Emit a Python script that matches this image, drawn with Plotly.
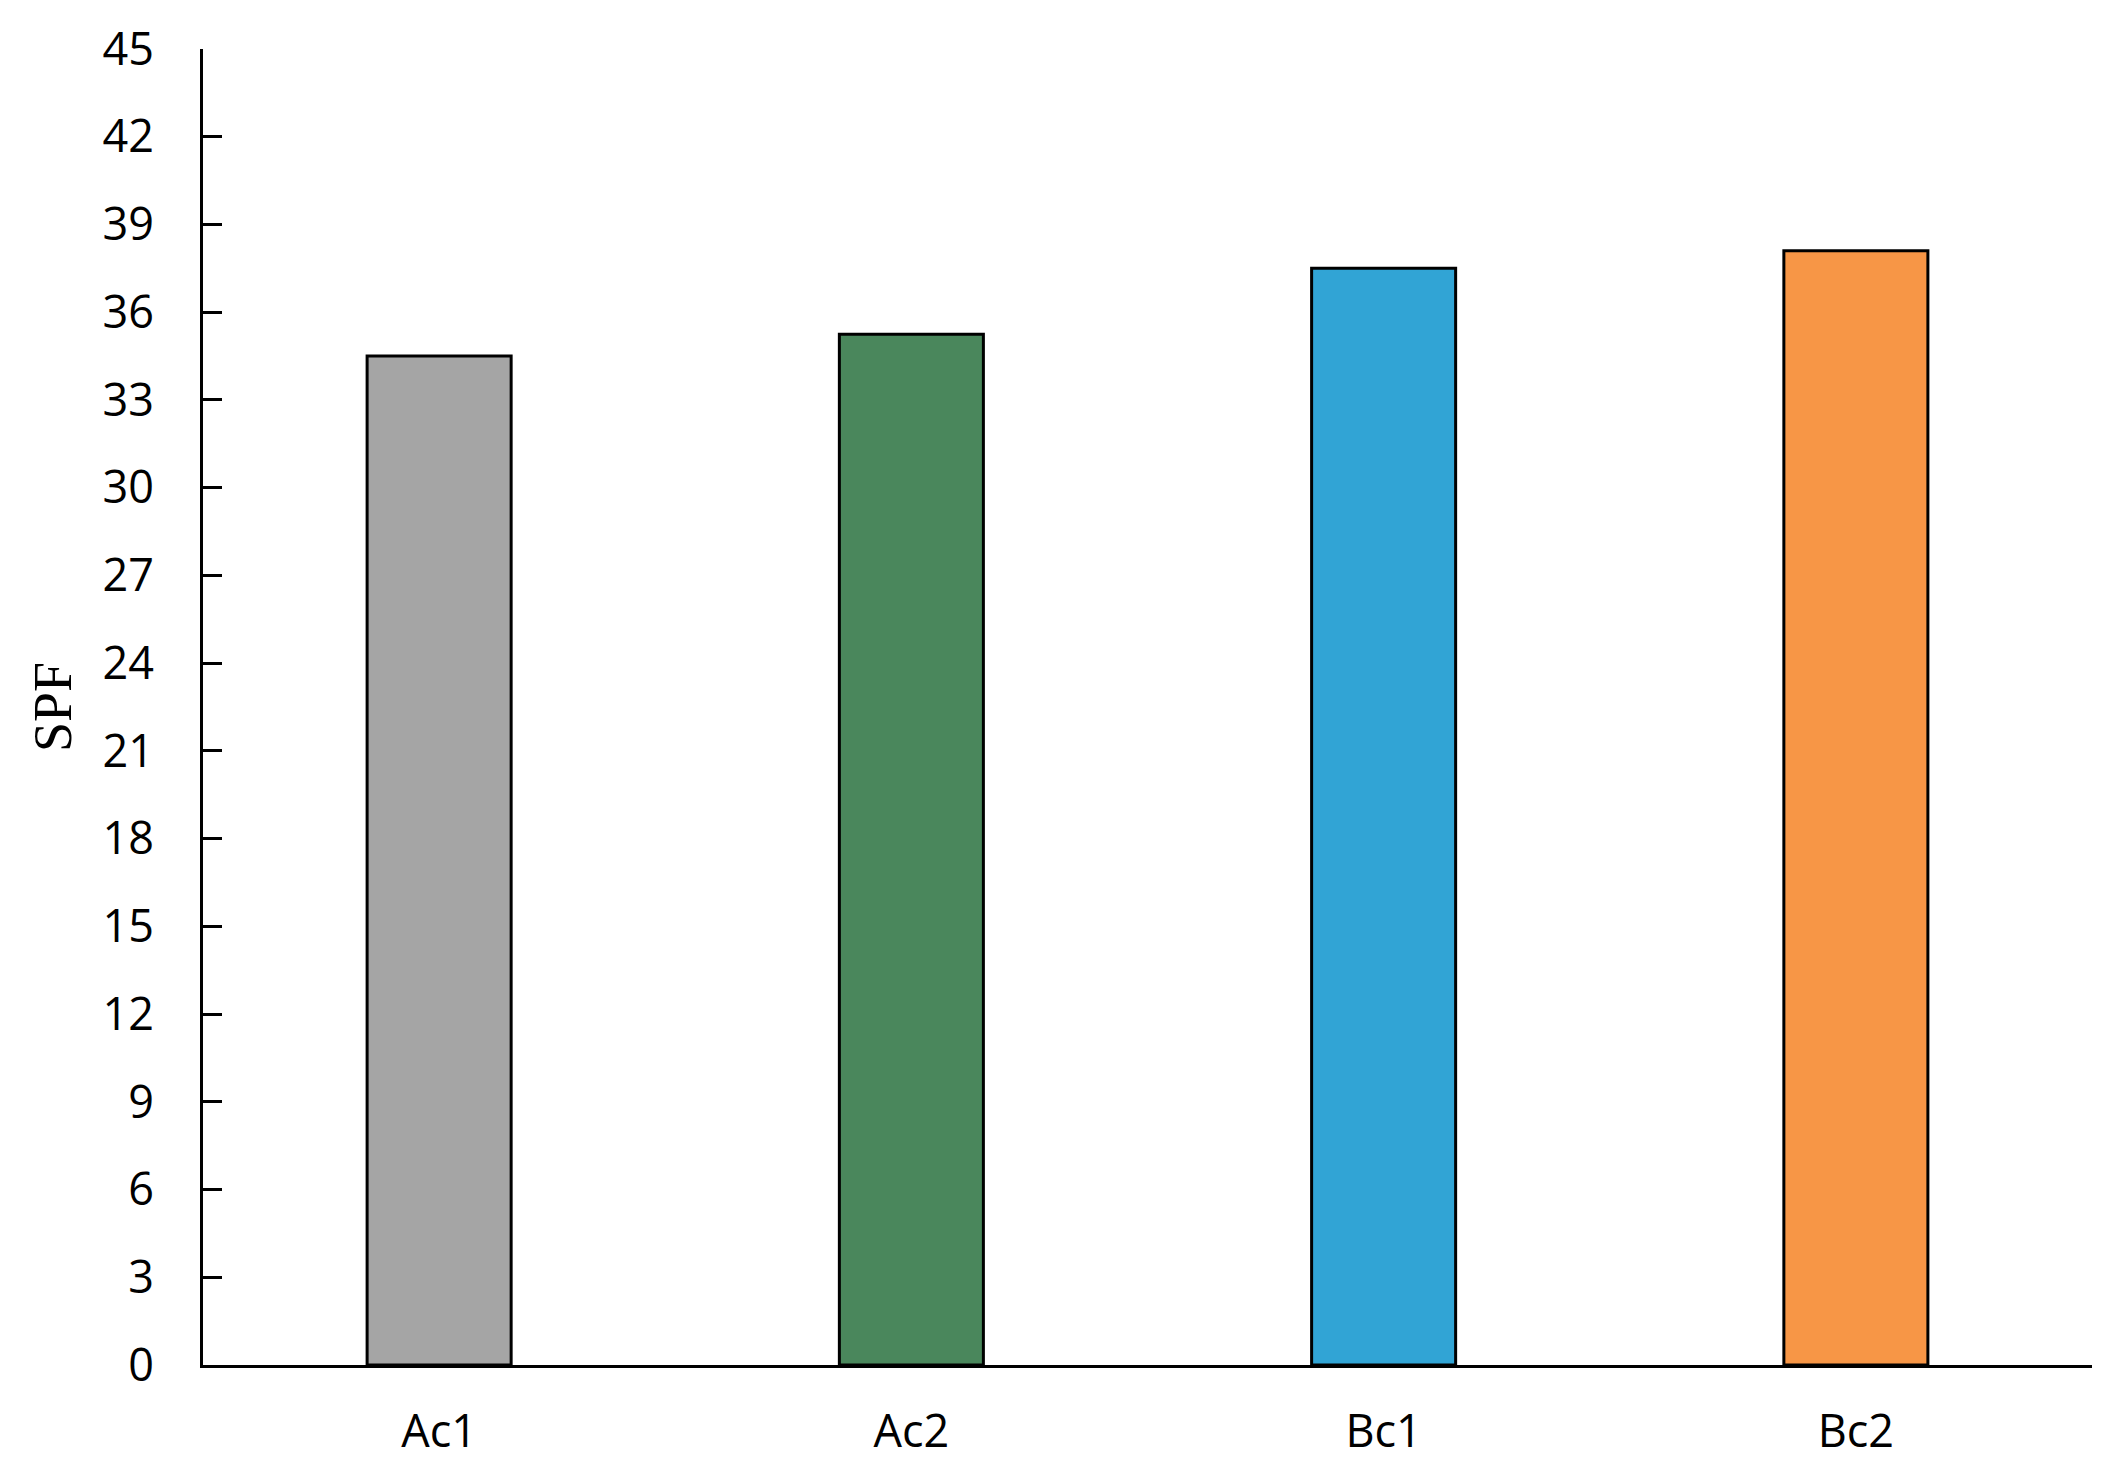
import plotly.graph_objects as go

categories = ["Ac1", "Ac2", "Bc1", "Bc2"]
spf_values = [34.5, 35.25, 37.5, 38.1]
bar_colors = ["#A5A5A5", "#4A875C", "#31A4D5", "#F79646"]
y_ticks = list(range(0, 46, 3))

fig = go.Figure(
    go.Bar(
        x=categories,
        y=spf_values,
        marker=dict(color=bar_colors, line=dict(color="black", width=3)),
        width=0.305,
    )
)

fig.update_layout(
    width=2125,
    height=1481,
    margin=dict(l=195, r=41, t=41, b=124),
    plot_bgcolor="white",
    paper_bgcolor="white",
    showlegend=False,
    font=dict(family="Open Sans", color="black", size=45),
)

fig.update_xaxes(
    automargin=False,
    showline=True,
    linecolor="black",
    linewidth=3,
    ticks="",
    showgrid=False,
    tickfont=dict(family="Open Sans", size=45, color="black"),
    ticklabelstandoff=25,
)

fig.update_yaxes(
    automargin=False,
    range=[0, 45],
    tickvals=y_ticks,
    ticktext=[str(v) for v in y_ticks],
    showline=True,
    linecolor="black",
    linewidth=3,
    ticks="inside",
    ticklen=19,
    tickwidth=3,
    tickcolor="black",
    showgrid=False,
    zeroline=False,
    tickfont=dict(family="Open Sans", size=45, color="black"),
    ticklabelstandoff=37,
    title=dict(text="SPF", font=dict(family="Liberation Serif", size=54, color="black"), standoff=14),
)

fig.write_html("out.html")
